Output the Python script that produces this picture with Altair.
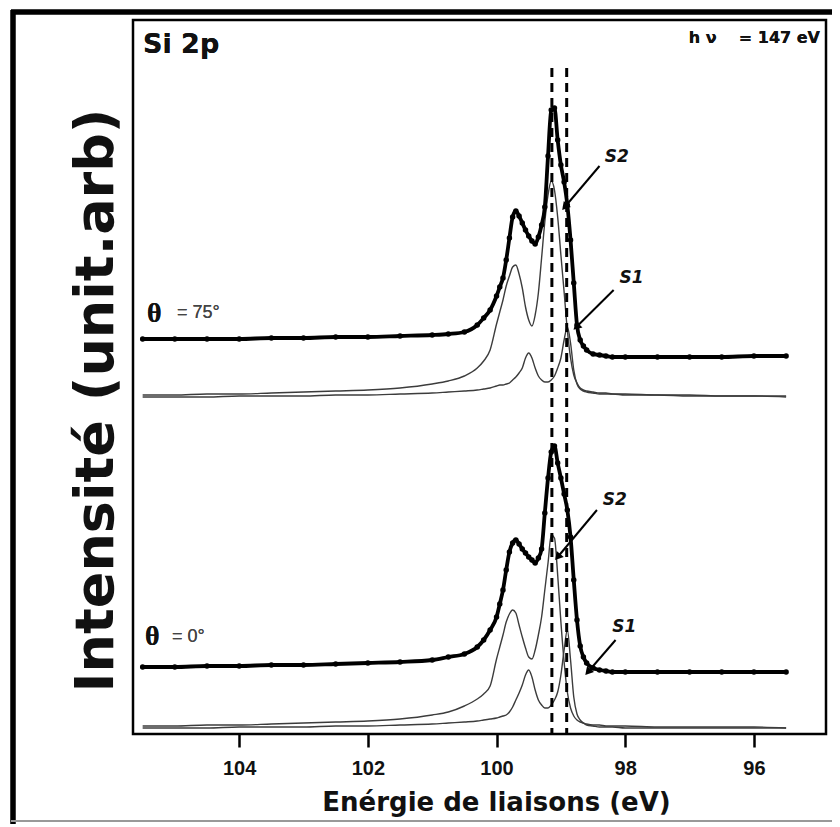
import math
import altair as alt
import pandas as pd

# ---------------- data ----------------
energy = [105.5, 105.0, 104.5, 104.0, 103.5, 103.0, 102.5, 102.0, 101.5, 101.0,
          100.75, 100.5, 100.3, 100.2, 100.1, 100.0, 99.95, 99.9, 99.85, 99.8,
          99.75, 99.7, 99.65, 99.6, 99.55, 99.5, 99.45, 99.4, 99.35, 99.3,
          99.25, 99.2, 99.15, 99.1, 99.05, 99.0, 98.95, 98.9, 98.85, 98.8,
          98.75, 98.7, 98.65, 98.6, 98.5, 98.4, 98.3, 98.2, 98.0, 97.5,
          97.0, 96.5, 96.0, 95.5]

# theta = 75 deg (upper spectrum)
data_75 = [395, 395, 395, 395, 396, 396, 397, 397, 398, 399,
           400, 402, 409, 416, 424, 438, 447, 456, 474, 496,
           517, 523, 518, 511, 504, 498, 493, 490, 497, 509,
           527, 578, 624, 626, 594, 569, 552, 529, 494, 451,
           409, 394, 388, 384, 380, 379, 378, 377, 377, 377,
           377, 377, 378, 378]
fitA_75 = [339, 339, 340, 340, 341, 342, 343, 344, 346, 350,
           353, 358, 366, 373, 384, 410, 422, 434, 448, 458,
           467, 469, 460, 446, 427, 414, 408, 419, 441, 476,
           512, 539, 553, 544, 517, 479, 442, 404, 376, 359,
           351, 346, 344, 343, 342, 341, 341, 340, 340, 339,
           339, 338, 338, 338]
fitB_75 = [337, 337, 337, 338, 338, 338, 339, 339, 340, 341,
           342, 343, 344, 345, 346, 348, 349, 349, 350, 351,
           354, 357, 361, 366, 376, 381, 376, 366, 358, 354,
           352, 352, 354, 358, 366, 376, 394, 407, 391, 364,
           350, 345, 343, 342, 341, 340, 340, 340, 339, 339,
           338, 338, 338, 337]

# theta = 0 deg (lower spectrum)
data_0 = [67, 67, 68, 68, 69, 69, 70, 71, 72, 74,
          77, 80, 87, 94, 104, 117, 130, 144, 164, 182,
          191, 194, 190, 185, 181, 177, 174, 171, 176, 185,
          221, 256, 282, 288, 271, 256, 240, 224, 197, 154,
          114, 88, 77, 71, 66, 64, 63, 62, 62, 62,
          62, 62, 62, 62]
fitA_0 = [8, 8, 9, 9, 10, 11, 12, 13, 15, 19,
          22, 28, 35, 40, 48, 75, 87, 99, 112, 120,
          124, 121, 109, 97, 86, 77, 75, 84, 99, 117,
          144, 171, 199, 196, 159, 112, 72, 42, 26, 18,
          14, 12, 11, 10, 9, 9, 8, 8, 8, 7,
          7, 7, 7, 6]
fitB_0 = [6, 6, 6, 7, 7, 7, 8, 8, 9, 10,
          11, 12, 13, 14, 15, 16, 17, 18, 19, 22,
          27, 34, 41, 49, 59, 64, 57, 44, 34, 29,
          26, 26, 29, 34, 42, 59, 84, 104, 74, 37,
          20, 14, 11, 9, 8, 7, 7, 7, 6, 6,
          6, 6, 6, 6]

tick_values = [104, 102, 100, 98, 96]
x_domain = [94.88, 105.65]
y_domain = [0, 714]

dash_positions = [99.14, 98.91]
dash_top = [666, 666]

arrow_label = ["S2", "S1", "S2", "S1"]
label_x = [98.32, 98.09, 98.35, 98.20]
label_y = [572, 451, 229, 102]
arrow_x0 = [98.40, 98.18, 98.44, 98.15]
arrow_y0 = [568, 444, 224, 94]
arrow_x1 = [98.94, 98.76, 99.05, 98.58]
arrow_y1 = [527, 407, 177, 62]

# ---------------- tables ----------------
W, H = 693, 714
px_per_ev = W / (x_domain[1] - x_domain[0])

rows = []
for name, ys, kind in [("d75", data_75, "data"), ("d0", data_0, "data"),
                       ("a75", fitA_75, "fit"), ("b75", fitB_75, "fit"),
                       ("a0", fitA_0, "fit"), ("b0", fitB_0, "fit")]:
    for e, v in zip(energy, ys):
        rows.append({"energy": e, "intensity": v, "series": name, "kind": kind})
df = pd.DataFrame(rows)
df_data = df[df.kind == "data"]
df_fit = df[df.kind == "fit"]

df_dash = pd.DataFrame({"energy": dash_positions, "top": dash_top, "bottom": [0, 0]})

angles = []
for x0, y0, x1, y1 in zip(arrow_x0, arrow_y0, arrow_x1, arrow_y1):
    dx = -(x1 - x0) * px_per_ev
    dy = -(y1 - y0)
    angles.append(math.degrees(math.atan2(dx, -dy)) % 360)
df_arrow = pd.DataFrame({"label": arrow_label, "lx": label_x, "ly": label_y,
                         "x0": arrow_x0, "y0": arrow_y0, "x1": arrow_x1,
                         "y1": arrow_y1, "angle": angles})

# ---------------- scales / axes ----------------
x_scale = alt.Scale(domain=x_domain, reverse=True, nice=False, zero=False)
y_scale = alt.Scale(domain=y_domain, nice=False, zero=False)
x_axis = alt.Axis(values=tick_values, format="d", title="Enérgie de liaisons (eV)",
                  grid=False, domain=False, tickSize=13, tickWidth=2.5,
                  tickColor="black", labelFont="Liberation Sans",
                  labelFontWeight="bold", labelFontSize=20, labelColor="#111",
                  labelPadding=11, titleFont="DejaVu Sans", titleFontWeight="bold",
                  titleFontSize=26, titleColor="#111", titleX=363, titleY=76,
                  titleAlign="center", titleBaseline="alphabetic")
y_axis = alt.Axis(title="Intensité (unit.arb)", labels=False, ticks=False,
                  domain=False, grid=False, titleFont="DejaVu Sans",
                  titleFontWeight="bold", titleFontSize=54, titleColor="#111",
                  titleAngle=270, titleX=-21, titleY=380, titleAlign="center",
                  titleBaseline="alphabetic")

X = alt.X("energy:Q", scale=x_scale, axis=x_axis)
Y = alt.Y("intensity:Q", scale=y_scale, axis=y_axis)

fit_lines = alt.Chart(df_fit).mark_line(
    color="#3c3c3c", strokeWidth=1.4, interpolate="monotone"
).encode(x=X, y=Y, detail="series:N")

data_lines = alt.Chart(df_data).mark_line(
    color="black", strokeWidth=3.8, interpolate="monotone"
).encode(x=X, y=Y, detail="series:N")

data_pts = alt.Chart(df_data).mark_circle(
    color="black", size=30, opacity=1
).encode(x=X, y=Y)

dashes = alt.Chart(df_dash).mark_rule(
    color="black", strokeWidth=3, strokeDash=[9, 6]
).encode(x=alt.X("energy:Q", scale=x_scale, axis=x_axis),
         y=alt.Y("top:Q", scale=y_scale, axis=y_axis), y2="bottom:Q")

arrow_lines = alt.Chart(df_arrow).mark_rule(color="black", strokeWidth=2).encode(
    x=alt.X("x0:Q", scale=x_scale, axis=x_axis),
    y=alt.Y("y0:Q", scale=y_scale, axis=y_axis), x2="x1:Q", y2="y1:Q")

arrow_heads = alt.Chart(df_arrow).mark_point(
    shape="triangle-up", filled=True, color="black", size=85, opacity=1
).encode(x=alt.X("x1:Q", scale=x_scale, axis=x_axis),
         y=alt.Y("y1:Q", scale=y_scale, axis=y_axis),
         angle=alt.Angle("angle:Q", scale=None))

arrow_text = alt.Chart(df_arrow).mark_text(
    font="DejaVu Sans", fontWeight="bold", fontStyle="italic", fontSize=17,
    align="left", baseline="alphabetic", color="#111"
).encode(x=alt.X("lx:Q", scale=x_scale, axis=x_axis),
         y=alt.Y("ly:Q", scale=y_scale, axis=y_axis), text="label:N")

# free annotations (pixel positions relative to plot area)
def label(txt, x, y, **kw):
    return alt.Chart(df_dash).mark_text(text=txt, baseline="alphabetic", **kw).encode(
        x=alt.value(x), y=alt.value(y))

si2p = label("Si 2p", 10, 33, font="DejaVu Sans", fontWeight="bold",
             fontSize=27, align="left", color="#111")
hv = label("h\u00a0ν\u00a0\u00a0\u00a0\u00a0= 147 eV", 687, 23, font="DejaVu Sans",
           fontWeight="bold", fontSize=16, align="right", color="#111")
theta1 = label("θ", 14, 302, font="Liberation Serif", fontWeight="bold",
               fontSize=28, align="left", color="#111")
theta1v = label("= 75°", 44, 298, font="Liberation Sans", fontSize=18,
                align="left", color="#444")
theta0 = label("θ", 12, 625, font="Liberation Serif", fontWeight="bold",
               fontSize=28, align="left", color="#111")
theta0v = label("= 0°", 39, 622, font="Liberation Sans", fontSize=18,
                align="left", color="#444")

# outer figure frame
frame_left = alt.Chart(df_dash).mark_rule(color="black", strokeWidth=5).encode(
    x=alt.value(-120), y=alt.value(-10), y2=alt.value(830))
frame_top = alt.Chart(df_dash).mark_rule(color="black", strokeWidth=5).encode(
    x=alt.value(-122), x2=alt.value(760), y=alt.value(-8))
frame_bottom = alt.Chart(df_dash).mark_rule(color="#999", strokeWidth=2).encode(
    x=alt.value(-122), x2=alt.value(760), y=alt.value(801))

chart = alt.layer(
    fit_lines, data_lines, data_pts, dashes, arrow_lines, arrow_heads, arrow_text,
    si2p, hv, theta1, theta1v, theta0, theta0v, frame_left, frame_top, frame_bottom
).properties(
    width=W, height=H,
    padding={"left": 125, "top": 12, "right": 6, "bottom": 90},
    autosize=alt.AutoSizeParams(type="none"),
).configure_view(stroke="black", strokeWidth=2.5)

chart.save("out.html", embed_options={"renderer": "svg", "actions": False})
